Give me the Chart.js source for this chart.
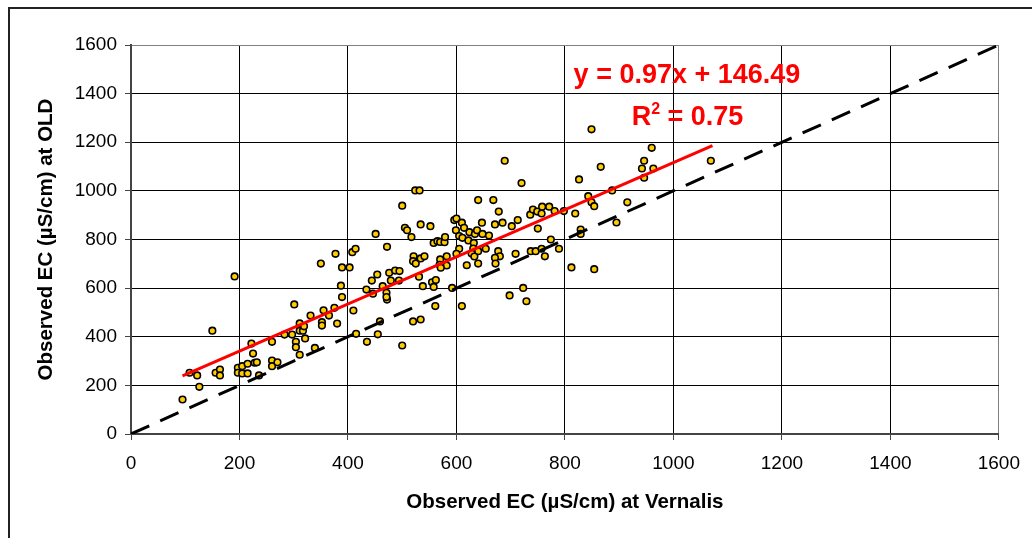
<!DOCTYPE html>
<html>
<head>
<meta charset="utf-8">
<script src="https://cdn.jsdelivr.net/npm/chart.js@4"></script>
<style>
  html, body { margin: 0; padding: 0; background: #fff; overflow: hidden; }
  #wrap { position: relative; width: 1032px; height: 538px; }
  #frame { position: absolute; left: 8px; top: 7px; width: 1100px; height: 600px; border: 2px solid #222; box-sizing: border-box; }
  canvas { position: absolute; left: 0; top: 0; }
</style>
</head>
<body>
<div id="wrap">
  <div id="frame"></div>
  <canvas id="chart" width="1032" height="538"></canvas>
</div>
<script>
  // ===== data =====
  const vernalisEC = [
    95,126,108,122,150,156,164,164,191,197,197,205,205,215,215,222,225,228,232,236,
    260,260,260,270,283,297,301,304,304,311,311,311,317,319,321,331,339,352,352,355,
    365,375,380,410,415,435,455,459,500,520,534,561,610,729,472,350,377,389,403,408,
    414,387,389,500,640,668,678,736,741,749,757,451,505,509,534,552,517,596,600,610,
    599,647,671,685,713,702,614,624,634,638,605,611,622,632,648,660,750,558,565,570,
    578,579,472,605,631,640,654,600,628,633,677,680,671,672,640,709,737,746,757,619,
    521,520,525,534,541,570,582,569,582,571,531,476,487,495,479,494,444,454,464,434,
    471,471,446,538,555,562,558,592,698,723,915,849,854,758,771,781,798,819,829,829,
    895,774,763,789,812,854,689,720,524,532,849,960,946,942,963,946,866,826,1069,843,
    887
  ];
  const oldEC = [
    142,194,252,241,425,252,265,241,648,272,252,279,249,289,249,372,331,293,295,241,
    379,302,279,295,409,409,533,379,357,326,455,425,425,443,393,487,354,460,446,509,
    487,519,454,508,412,379,410,463,364,463,471,526,526,546,553,701,741,685,685,748,
    762,610,563,939,962,962,915,902,923,915,907,823,848,838,862,855,810,880,886,869,
    838,869,862,869,880,855,848,830,823,838,814,807,796,786,823,816,845,786,793,790,
    789,810,770,762,763,752,762,741,742,730,752,731,725,701,701,741,752,752,762,694,
    731,711,701,722,731,718,731,696,693,684,647,663,672,670,631,631,631,656,608,594,
    581,563,577,608,624,633,605,601,570,601,953,953,937,935,935,917,917,907,841,823,
    870,800,731,762,685,678,1124,1032,1002,1002,1253,1177,1124,1092,1092,1054,1099,1047,1124,978,
    1002
  ];

  // linear fit endpoints and 1:1 line
  const fitX = [95, 1072];
  const fitY = [238.6, 1186.3];
  const oneToOne = [0, 1600];

  const axisTicks = [0, 200, 400, 600, 800, 1000, 1200, 1400, 1600];

  const eqText = "y = 0.97x + 146.49";
  const r2Value = "0.75";
  const eqPos = [1025, 1442];
  const r2Pos = [1026, 1269];

  const points = vernalisEC.map((v, i) => ({ x: v, y: oldEC[i] }));

  const FONT = '"Liberation Sans", Arial, sans-serif';

  // ===== text in the plot =====
  const fitLabel = {
    id: "fitLabel",
    afterDatasetsDraw(chart) {
      const { ctx, scales: { x, y } } = chart;
      ctx.save();
      ctx.fillStyle = "#ff0000";
      ctx.textBaseline = "alphabetic";
      const big = "bold 27px " + FONT;
      const small = "bold 16px " + FONT;
      ctx.font = big;
      ctx.textAlign = "center";
      ctx.fillText(eqText, x.getPixelForValue(eqPos[0]), y.getPixelForValue(eqPos[1]));

      // R² with a raised 2
      const wR = ctx.measureText("R").width;
      const wRest = ctx.measureText(" = " + r2Value).width;
      ctx.font = small;
      const w2 = ctx.measureText("2").width;
      let px = x.getPixelForValue(r2Pos[0]) - (wR + w2 + wRest) / 2;
      const py = y.getPixelForValue(r2Pos[1]);
      ctx.textAlign = "left";
      ctx.font = big;
      ctx.fillText("R", px, py);
      px += wR;
      ctx.font = small;
      ctx.fillText("2", px, py - 11);
      px += w2;
      ctx.font = big;
      ctx.fillText(" = " + r2Value, px, py);
      ctx.restore();
    }
  };

  const gridColor = (c) => (c.tick && c.tick.value === 1600 ? "#808080" : "#000");

  new Chart(document.getElementById("chart").getContext("2d"), {
    type: "scatter",
    data: {
      datasets: [
        {
          label: "fit",
          data: fitX.map((v, i) => ({ x: v, y: fitY[i] })),
          showLine: true,
          borderColor: "#ff0000",
          borderWidth: 3,
          pointRadius: 0,
          order: 0
        },
        {
          label: "1:1",
          data: oneToOne.map(v => ({ x: v, y: v })),
          showLine: true,
          borderColor: "#000",
          borderWidth: 3,
          borderDash: [20, 12],
          pointRadius: 0,
          order: 1
        },
        {
          label: "EC",
          data: points,
          pointRadius: 3.3,
          pointBackgroundColor: "#ffcc00",
          pointBorderColor: "#000",
          pointBorderWidth: 1.6,
          order: 2
        }
      ]
    },
    options: {
      responsive: false,
      animation: false,
      layout: { padding: { left: 34, top: 45, right: 31, bottom: 23 } },
      plugins: { legend: { display: false }, tooltip: { enabled: false } },
      scales: {
        x: {
          type: "linear",
          min: 0, max: 1600,
          afterBuildTicks: (s) => { s.ticks = axisTicks.map(v => ({ value: v })); },
          afterFit: (s) => { s.height = 81; },
          grid: { color: gridColor, lineWidth: 1, tickLength: 6, tickColor: "#444" },
          border: { color: "#444", width: 2 },
          ticks: { color: "#000", padding: 12, callback: (v) => String(v), font: { family: FONT, size: 19 } },
          title: {
            display: true,
            text: "Observed EC (µS/cm) at Vernalis",
            color: "#000",
            padding: 0,
            font: { family: FONT, size: 20.5, weight: "bold" }
          }
        },
        y: {
          type: "linear",
          min: 0, max: 1600,
          afterBuildTicks: (s) => { s.ticks = axisTicks.map(v => ({ value: v })); },
          afterFit: (s) => { s.width = 97; },
          grid: { color: gridColor, lineWidth: 1, tickLength: 6, tickColor: "#444" },
          border: { color: "#444", width: 2 },
          ticks: { color: "#000", padding: 8, callback: (v) => String(v), font: { family: FONT, size: 19 } },
          title: {
            display: true,
            text: "Observed EC (µS/cm) at OLD",
            color: "#000",
            padding: 0,
            font: { family: FONT, size: 20.5, weight: "bold" }
          }
        }
      }
    },
    plugins: [fitLabel]
  });
</script>
</body>
</html>
